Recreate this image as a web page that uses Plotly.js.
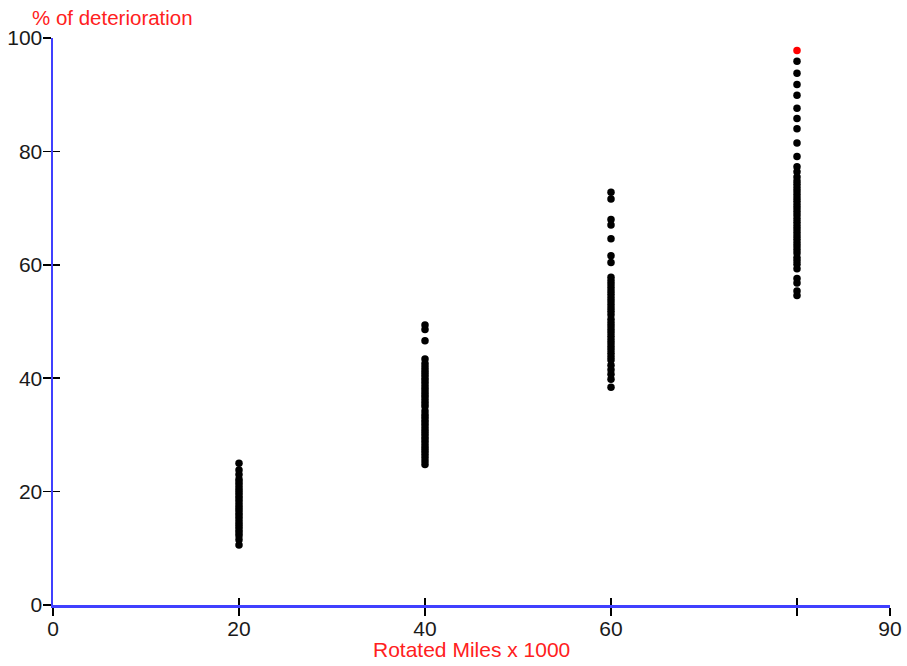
<!DOCTYPE html>
<html>
<head>
<meta charset="utf-8">
<script src="https://cdn.plot.ly/plotly-3.0.1.min.js"></script>
<style>html,body{margin:0;padding:0;background:#fff;}#chart{width:907px;height:666px;}</style>
</head>
<body>
<div id="chart"></div>
<script>
// ---- data ----
const miles = [20, 40, 60, 80];
const det20 = [25.0, 23.8, 23.0, 22.2, 21.7, 21.2, 20.7, 20.2, 19.7, 19.2, 18.7, 18.2, 17.7, 17.2, 16.7, 16.2, 15.7, 15.2, 14.7, 14.2, 13.7, 13.2, 12.7, 12.2, 11.5, 10.6];
const det40 = [49.4, 48.6, 46.6, 43.4, 42.6, 42.0, 41.5, 41.0, 40.5, 40.0, 39.5, 39.0, 38.5, 38.0, 37.5, 37.0, 36.5, 36.0, 35.5, 35.0, 34.2, 33.6, 33.1, 32.6, 32.1, 31.6, 31.1, 30.6, 30.1, 29.6, 29.1, 28.6, 28.1, 27.6, 27.1, 26.6, 26.0, 25.4, 24.8];
const det60 = [72.8, 71.6, 68.0, 67.0, 64.6, 61.6, 60.4, 57.8, 57.2, 56.6, 56.0, 55.4, 54.8, 54.2, 53.6, 53.0, 52.4, 51.8, 51.2, 50.4, 49.8, 49.2, 48.6, 48.0, 47.4, 46.8, 46.2, 45.6, 45.0, 44.4, 43.8, 43.2, 42.3, 41.5, 40.7, 39.8, 38.4];
const det80 = [95.9, 93.8, 91.8, 89.9, 87.6, 85.8, 84.0, 81.5, 79.1, 77.3, 76.4, 75.5, 74.8, 74.2, 73.6, 73.0, 72.4, 71.8, 71.2, 70.6, 70.0, 69.4, 68.8, 68.1, 67.5, 66.9, 66.3, 65.7, 65.1, 64.5, 63.9, 63.3, 62.7, 62.1, 61.3, 60.7, 60.1, 59.3, 57.6, 56.8, 55.4, 54.6];
const highlightX = [80];
const highlightY = [97.8];
const xTickVals = [0, 20, 40, 60, 80, 90];
const xTickText = ['0', '20', '40', '60', '', '90'];
const yTickVals = [0, 20, 40, 60, 80, 100];

const groups = [det20, det40, det60, det80];
const xs = [], ys = [];
groups.forEach((g, i) => g.forEach(v => { xs.push(miles[i]); ys.push(v); }));

const fam = 'Arial, "Liberation Sans", sans-serif';
const font = {family: fam, size: 21, color: '#1a1a1a'};
const red = '#ff2020';

const traces = [
  {x: xs, y: ys, type: 'scatter', mode: 'markers', marker: {color: '#000', size: 7.5}, hoverinfo: 'x+y'},
  {x: highlightX, y: highlightY, type: 'scatter', mode: 'markers', marker: {color: '#ff0000', size: 7.5}},
  // helper trace for inner tick marks
  {x: [0], y: [0], xaxis: 'x2', yaxis: 'y2', mode: 'markers', marker: {opacity: 0}, hoverinfo: 'skip'}
];

const layout = {
  width: 907, height: 666,
  margin: {l: 53, r: 17, t: 38, b: 61},
  paper_bgcolor: '#fff', plot_bgcolor: '#fff',
  showlegend: false,
  font: font,
  title: {text: '% of deterioration', font: {family: fam, size: 20.5, color: red},
          xref: 'container', yref: 'container', x: 32/907, xanchor: 'left', y: 1 - 18/666, yanchor: 'middle'},
  annotations: [{text: 'Rotated Miles x 1000', xref: 'paper', yref: 'paper', x: 0.5, y: 0, xanchor: 'center', yanchor: 'middle',
                 yshift: -44, showarrow: false, font: {family: fam, size: 21, color: red}}],
  xaxis: {range: [0, 90], tickvals: xTickVals, ticktext: xTickText, ticks: 'outside', ticklen: 8, tickwidth: 1.5, tickcolor: '#000',
          showline: true, linecolor: '#4040ff', linewidth: 2.5, showgrid: false, zeroline: false,
          tickfont: font, ticklabelstandoff: -5},
  yaxis: {range: [0, 100], tickvals: yTickVals, ticks: 'outside', ticklen: 8, tickwidth: 1.5, tickcolor: '#000',
          showline: true, linecolor: '#4040ff', linewidth: 2.5, showgrid: false, zeroline: false,
          tickfont: font, ticklabelstandoff: -4},
  xaxis2: {range: [0, 90], overlaying: 'x', tickvals: xTickVals, ticks: 'inside', ticklen: 7, tickwidth: 1.5, tickcolor: '#000',
           showticklabels: false, showline: false, showgrid: false, zeroline: false},
  yaxis2: {range: [0, 100], overlaying: 'y', tickvals: yTickVals, ticks: 'inside', ticklen: 7, tickwidth: 1.5, tickcolor: '#000',
           showticklabels: false, showline: false, showgrid: false, zeroline: false}
};

Plotly.newPlot('chart', traces, layout, {displayModeBar: false, staticPlot: true});
</script>
</body>
</html>
